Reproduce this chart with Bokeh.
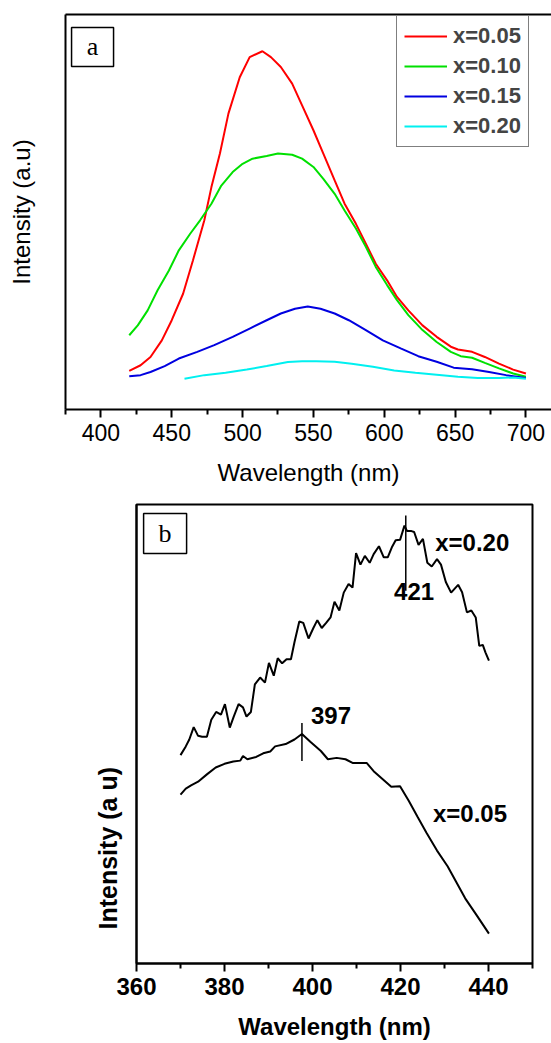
from bokeh.plotting import figure
from bokeh.models import Range1d, FixedTicker, LinearAxis, Legend, LegendItem, Title
from bokeh.layouts import column
from bokeh.embed import file_html
from bokeh.resources import INLINE
from bokeh.core.properties import value

SANS = "Liberation Sans"
SERIF = "Liberation Serif"

# ---------------- Panel (a) data ----------------
top_ticks = [400, 450, 500, 550, 600, 650, 700]
top_minor = [375, 425, 475, 525, 575, 625, 675, 725]

wl_005 = [420, 428, 435, 443, 450, 458, 465, 473, 478, 484, 490, 498, 505, 514, 520, 527, 535, 542,
          550, 557, 565, 572, 580, 587, 594, 602, 609, 617, 627, 637, 647, 652, 662, 671, 681, 691, 700]
int_005 = [9.8, 11.2, 13.3, 17.5, 22.6, 29.3, 37.8, 47.9, 56.3, 64.8, 74.9, 84.1, 89.2, 90.7, 89.2, 86.7,
           82.5, 77.0, 70.7, 64.8, 58.0, 52.1, 47.0, 42.0, 36.9, 32.7, 28.5, 25.1, 21.3, 18.4, 15.9, 15.2,
           14.6, 13.3, 11.6, 10.1, 9.1]

wl_010 = [420, 426, 433, 440, 448, 455, 463, 470, 478, 485, 493, 500, 507, 517, 525, 535, 542, 550,
          557, 565, 572, 580, 587, 594, 602, 609, 617, 627, 637, 647, 654, 662, 671, 681, 691, 700]
int_010 = [18.8, 21.3, 25.1, 30.2, 35.2, 40.3, 44.5, 47.9, 52.1, 56.7, 60.1, 62.2, 63.5, 64.2, 64.8, 64.5,
           63.5, 61.4, 58.4, 54.6, 50.4, 45.8, 41.2, 36.1, 31.5, 27.7, 23.9, 20.1, 17.1, 14.6, 13.5, 13.1,
           11.8, 10.4, 9.1, 8.3]

wl_015 = [420, 428, 435, 445, 455, 468, 480, 493, 505, 517, 527, 537, 546, 555, 565, 575, 587, 599,
          612, 624, 637, 649, 662, 674, 686, 700]
int_015 = [8.4, 8.7, 9.5, 11.0, 12.9, 14.6, 16.3, 18.4, 20.5, 22.6, 24.3, 25.5, 26.1, 25.5, 24.3, 22.6,
           20.1, 17.5, 15.4, 13.5, 12.1, 10.6, 10.2, 9.5, 8.7, 8.0]

wl_020 = [459, 473, 488, 503, 517, 532, 542, 552, 565, 577, 592, 607, 622, 637, 652, 666, 681, 691, 700]
int_020 = [7.8, 8.7, 9.3, 10.1, 11.0, 12.0, 12.2, 12.2, 12.1, 11.6, 10.8, 9.9, 9.3, 8.8, 8.3, 8.0, 8.0,
           8.1, 7.8]

series_a = ["x=0.05", "x=0.10", "x=0.15", "x=0.20"]
colors_a = ["#ff0000", "#00e000", "#0000e0", "#00f0f0"]

# ---------------- Panel (b) data ----------------
bot_ticks = [360, 380, 400, 420, 440]
bot_minor = [370, 390, 410, 430, 450]

wl_b020 = [370.0, 371.2, 372.0, 373.0, 374.0, 374.9, 376.0, 377.0, 378.1, 379.2, 380.1, 381.2, 382.1,
           383.2, 384.2, 385.0, 386.0, 386.9, 388.1, 389.2, 390.1, 391.2, 392.1, 393.1, 394.1, 395.1,
           395.9, 397.0, 397.9, 399.1, 400.2, 401.1, 402.1, 403.1, 404.1, 405.0, 406.1, 407.1, 408.2,
           409.1, 409.9, 410.9, 411.9, 413.0, 413.9, 415.1, 416.2, 417.1, 418.1, 418.9, 419.9, 420.9,
           421.5, 422.5, 423.1, 424.1, 425.1, 426.1, 427.1, 428.3, 429.2, 430.3, 431.5, 433.1, 434.0,
           435.1, 436.1, 437.1, 437.9, 438.7, 439.3, 440.1]
int_b020 = [45.4, 47.3, 48.8, 51.5, 49.6, 49.4, 49.4, 53.1, 54.8, 54.2, 56.5, 51.4, 53.8, 56.5, 55.8,
            53.8, 54.8, 60.8, 62.3, 61.2, 65.5, 62.7, 66.5, 65.4, 66.3, 66.3, 70.0, 74.5, 74.2, 70.8,
            73.1, 74.8, 73.1, 74.2, 75.4, 78.8, 76.9, 80.8, 82.7, 81.9, 89.4, 86.9, 88.8, 87.3, 89.2,
            90.9, 88.5, 88.5, 90.8, 92.2, 92.3, 95.4, 94.2, 94.2, 94.0, 91.2, 92.5, 87.3, 86.5, 88.1,
            86.9, 83.1, 80.8, 82.5, 80.9, 76.5, 76.9, 75.4, 69.2, 69.4, 67.8, 66.0]

wl_b005 = [370.0, 371.2, 372.4, 374.0, 376.0, 378.0, 380.0, 382.0, 383.6, 384.2, 385.2, 387.2, 388.8,
           390.4, 391.5, 393.9, 395.9, 397.6, 399.5, 401.9, 403.5, 405.5, 407.5, 409.1, 410.7, 412.3,
           413.9, 415.9, 417.9, 419.9, 421.9, 423.9, 425.9, 428.3, 430.7, 432.7, 434.7, 437.1, 440.1]
int_b005 = [36.8, 38.1, 38.8, 39.6, 41.2, 42.7, 43.5, 44.0, 44.2, 45.2, 44.5, 45.0, 45.8, 46.2, 47.3,
            47.8, 48.8, 50.0, 48.3, 46.3, 44.5, 44.8, 44.5, 43.7, 43.7, 43.7, 41.9, 40.2, 38.5, 38.6,
            35.4, 31.9, 28.5, 24.6, 21.2, 17.7, 14.2, 10.8, 6.5]

peak_wl = [397.6, 421.2]
peak_text = ["397", "421"]
peak_top = [52.4, 97.6]
peak_bottom = [44.1, 81.2]
peak_label_x = [404.2, 423.1]
peak_label_y = [54.1, 81.0]

series_b = ["x=0.20", "x=0.05"]
series_b_x = [436.3, 435.8]
series_b_y = [91.8, 32.6]


def style_xaxis(ax, ticks, minor, bold, tick_size):
    ax.ticker = FixedTicker(ticks=ticks, minor_ticks=minor)
    ax.axis_line_width = 2
    ax.axis_line_color = "black"
    ax.major_tick_in = 0
    ax.major_tick_out = 8
    ax.minor_tick_in = 0
    ax.minor_tick_out = 5
    ax.major_tick_line_width = 2
    ax.minor_tick_line_width = 2
    ax.major_label_text_font = SANS
    ax.major_label_text_font_size = tick_size
    ax.major_label_text_font_style = "bold" if bold else "normal"
    ax.major_label_text_color = "black"
    ax.axis_label_text_font = SANS
    ax.axis_label_text_font_size = "24px"
    ax.axis_label_text_font_style = "bold" if bold else "normal"
    ax.axis_label_text_color = "black"


def bare_yaxis(ax):
    ax.ticker = FixedTicker(ticks=[])
    ax.axis_line_width = 2
    ax.axis_line_color = "black"
    ax.major_tick_out = 0
    ax.major_tick_in = 0
    ax.minor_tick_out = 0
    ax.minor_tick_in = 0


# ---------------- Panel (a) ----------------
p1 = figure(width=551, height=490, x_range=Range1d(375, 718.06), y_range=Range1d(0, 100),
            output_backend="svg", toolbar_location=None,
            min_border_left=65, min_border_right=0, min_border_top=14, min_border_bottom=81)
p1.frame_align = False
p1.outline_line_color = None
p1.grid.visible = False
p1.background_fill_color = "white"

style_xaxis(p1.xaxis[0], top_ticks, top_minor, False, "23px")
p1.xaxis[0].axis_label = "Wavelength (nm)"
p1.xaxis[0].major_label_standoff = 6
p1.xaxis[0].axis_label_standoff = 15

bare_yaxis(p1.yaxis[0])
p1.yaxis[0].axis_label = "Intensity (a.u)"
p1.yaxis[0].axis_label_text_font = SANS
p1.yaxis[0].axis_label_text_font_size = "24px"
p1.yaxis[0].axis_label_text_font_style = "normal"
p1.yaxis[0].axis_label_text_color = "black"
p1.yaxis[0].axis_label_standoff = 31

top_axis = LinearAxis(ticker=FixedTicker(ticks=[]), axis_line_width=2, major_tick_out=0, major_tick_in=0,
                      minor_tick_out=0, minor_tick_in=0, major_label_standoff=0)
p1.add_layout(top_axis, "above")

wls = [wl_005, wl_010, wl_015, wl_020]
ints = [int_005, int_010, int_015, int_020]
items = []
for name, col, wx, iy in zip(series_a, colors_a, wls, ints):
    r = p1.line(wx, iy, line_color=col, line_width=2)
    items.append(LegendItem(label=name, renderers=[r]))

legend = Legend(items=items, location=(331, 262), border_line_color="black", border_line_width=1.5,
                padding=7, spacing=4, glyph_width=43, glyph_height=22, label_height=22, label_standoff=6,
                label_text_font=SANS, label_text_font_size="22px", label_text_font_style="bold",
                margin=0, background_fill_color="white", background_fill_alpha=1.0)
p1.add_layout(legend)

p1.rect(x=[394.1], y=[91.8], width=42, height=39, width_units="screen", height_units="screen",
        fill_color="white", line_color="black", line_width=1.5)
p1.text(x=[394.1], y=[91.8], text=["a"], text_font=value(SERIF), text_font_size="26px",
        text_align="center", text_baseline="middle", text_color="black")

# ---------------- Panel (b) ----------------
p2 = figure(width=551, height=553, x_range=Range1d(360, 450), y_range=Range1d(0, 100),
            output_backend="svg", toolbar_location=None,
            min_border_left=136, min_border_right=19, min_border_top=14, min_border_bottom=80)
p2.frame_align = False
p2.outline_line_color = "black"
p2.outline_line_width = 2
p2.grid.visible = False

style_xaxis(p2.xaxis[0], bot_ticks, bot_minor, True, "24px")
p2.xaxis[0].axis_label = "Wavelength (nm)"
p2.xaxis[0].major_label_standoff = 6
p2.xaxis[0].axis_label_standoff = 15

bare_yaxis(p2.yaxis[0])

ytitle = Title(text="Intensity (a u)", align="left", offset=34, standoff=30,
               text_font=SANS, text_font_size="25px", text_font_style="bold", text_color="black")
p2.add_layout(ytitle, "left")

p2.line(wl_b020, int_b020, line_color="black", line_width=2)
p2.line(wl_b005, int_b005, line_color="black", line_width=2)

p2.segment(x0=peak_wl, y0=peak_bottom, x1=peak_wl, y1=peak_top, line_color="black", line_width=1.5)
p2.text(x=peak_label_x, y=peak_label_y, text=peak_text, text_font=value(SANS), text_font_size="24px",
        text_font_style="bold", text_align="center", text_baseline="middle", text_color="black")
p2.text(x=series_b_x, y=series_b_y, text=series_b, text_font=value(SANS), text_font_size="24px",
        text_font_style="bold", text_align="center", text_baseline="middle", text_color="black")

p2.rect(x=[366.5], y=[93.7], width=43, height=40, width_units="screen", height_units="screen",
        fill_color="white", line_color="black", line_width=1.5)
p2.text(x=[366.5], y=[93.7], text=["b"], text_font=value(SERIF), text_font_size="26px",
        text_align="center", text_baseline="middle", text_color="black")

layout = column(p1, p2)
open("out.html", "w").write(file_html(layout, INLINE))
